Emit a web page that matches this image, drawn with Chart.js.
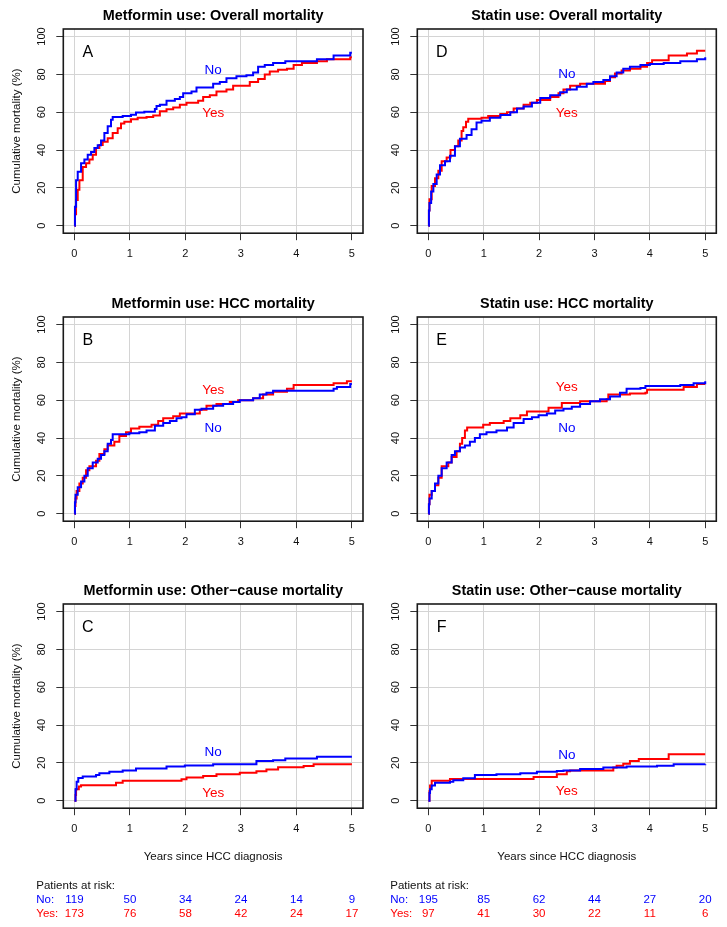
<!DOCTYPE html>
<html>
<head>
<meta charset="utf-8">
<script src="https://cdn.jsdelivr.net/npm/chart.js@4/dist/chart.umd.min.js"></script>
<style>
    body { margin: 0; background: #fff; width: 727px; height: 927px; position: relative; overflow: hidden;
           font-family: "Liberation Sans", Arial, Helvetica, sans-serif; }
    canvas { position: absolute; }
    .risk { position: absolute; font-size: 11.5px; line-height: 14px; white-space: nowrap; }
</style>
</head>
<body>
<script>
const xTicks = [0, 1, 2, 3, 4, 5];
const yTicks = [0, 20, 40, 60, 80, 100];

// [years, cumulative mortality %]
const metforminOverallNo = [[0,0],[0.01,10],[0.03,24],[0.06,28.5],[0.12,33],[0.18,35],[0.24,37.5],[0.3,39],[0.36,41],[0.42,42.5],[0.48,45],[0.54,49],[0.6,52.5],[0.66,56],[0.69,57.5],[0.87,58],[1.02,58.7],[1.11,59.8],[1.26,60.3],[1.45,61.7],[1.48,63.3],[1.54,64],[1.66,66],[1.81,67],[1.9,68],[1.96,70],[2.11,71],[2.2,73],[2.5,75],[2.62,76],[2.74,78],[2.92,79],[3.1,79.5],[3.22,81],[3.31,84],[3.43,85],[3.58,86],[3.8,87],[4.37,88],[4.67,90],[4.97,91.5],[5,91.5]];
const metforminOverallYes = [[0,0],[0.01,6],[0.03,13.5],[0.06,19],[0.09,24],[0.15,31],[0.21,33],[0.27,35],[0.33,37.5],[0.39,41],[0.45,42.7],[0.51,44.4],[0.6,46.2],[0.69,49],[0.78,51.5],[0.84,54],[0.9,55],[1.02,56.3],[1.14,57],[1.3,57.5],[1.42,58.3],[1.54,60.5],[1.66,61.5],[1.78,62.5],[1.9,64],[2.02,65],[2.23,66],[2.32,68],[2.44,69],[2.56,71],[2.74,72],[2.86,74],[3.16,76],[3.31,77.5],[3.43,80],[3.52,81.5],[3.67,82.5],[3.83,83],[3.95,85],[4.1,86],[4.37,87],[4.55,88],[4.97,89],[5,89]];
const statinOverallNo = [[0,0],[0.01,8],[0.02,12],[0.05,18],[0.09,22],[0.15,27],[0.21,32],[0.3,34],[0.39,37],[0.48,42],[0.57,46],[0.69,48],[0.78,51],[0.87,54.5],[0.96,55.5],[1.11,57],[1.3,58.5],[1.48,60],[1.6,62],[1.72,63],[1.87,65],[2.02,67.5],[2.2,69],[2.38,70.5],[2.5,72],[2.68,73.5],[2.86,75],[2.98,76],[3.16,77],[3.28,79],[3.4,81],[3.52,83],[3.64,84],[3.83,85],[4,85.5],[4.25,86],[4.55,87],[4.85,88],[5,89]];
const statinOverallYes = [[0,0],[0.01,8],[0.02,14],[0.06,21],[0.12,25],[0.18,29],[0.24,34],[0.33,36],[0.4,40],[0.48,42],[0.54,45],[0.6,50],[0.63,52],[0.68,55],[0.72,56.5],[0.96,57],[1.08,58],[1.3,59],[1.42,60],[1.54,62],[1.72,64],[1.84,65],[1.96,66.5],[2.2,68],[2.35,70],[2.44,72],[2.56,74],[2.74,75],[3.19,76.5],[3.28,78.5],[3.37,80.5],[3.49,82],[3.64,83],[3.83,84],[3.95,86],[4.04,87.5],[4.34,90],[4.67,91],[4.85,92.5],[5,92.5]];
const metforminHccNo = [[0,0],[0.01,6],[0.02,10],[0.06,14],[0.12,17],[0.18,20],[0.24,24],[0.33,27],[0.42,29],[0.48,31],[0.54,33],[0.6,37],[0.66,39],[0.69,42],[0.99,42.5],[1.17,43],[1.3,44],[1.45,46.5],[1.6,48],[1.72,49],[1.84,50.5],[1.93,51],[2.02,52.5],[2.17,55],[2.29,55.5],[2.5,57],[2.68,58],[2.86,59],[2.98,60],[3.22,61],[3.34,63],[3.46,64],[3.58,65],[4.67,66],[4.73,67],[4.97,68.5],[5,68.5]];
const metforminHccYes = [[0,0],[0.01,4],[0.02,8],[0.04,12],[0.09,16],[0.15,19],[0.21,23],[0.27,25],[0.39,28],[0.45,31.5],[0.54,34],[0.6,36],[0.72,38],[0.81,41],[0.93,43],[1.02,45],[1.17,46],[1.39,47],[1.51,49],[1.6,50.5],[1.78,51.5],[1.9,53],[2.26,55],[2.38,57],[2.56,58],[2.8,59],[2.95,60],[3.22,61],[3.4,63],[3.58,64.5],[3.83,66],[3.95,68],[4.67,69],[4.91,70],[5,70]];
const statinHccNo = [[0,0],[0.01,5],[0.02,8],[0.06,12],[0.12,16],[0.18,20],[0.24,24],[0.33,27],[0.42,31],[0.48,33],[0.57,35],[0.66,36],[0.75,38],[0.84,40],[0.93,42],[1.05,43],[1.23,44],[1.42,45.5],[1.54,48],[1.72,50],[1.87,51],[1.99,52],[2.14,53],[2.29,54.5],[2.44,55.5],[2.59,56.5],[2.74,58],[2.92,59.5],[3.1,60.5],[3.28,62],[3.46,64],[3.58,66],[3.83,66.5],[3.92,67.5],[4.55,68],[4.79,69],[5,70]];
const statinHccYes = [[0,0],[0.01,5],[0.02,10],[0.06,12],[0.12,15],[0.18,19],[0.24,25],[0.36,27],[0.42,30],[0.51,33],[0.57,37],[0.61,40],[0.66,44],[0.7,45.5],[0.99,47],[1.11,48],[1.36,49],[1.48,50.5],[1.66,52],[1.78,54],[2.17,56],[2.41,58.5],[2.74,59.5],[3.22,60.5],[3.25,63],[3.64,63.5],[3.92,64],[3.95,65.5],[4.61,67],[4.85,68.5],[5,68.5]];
const metforminOtherNo = [[0,0],[0.02,6],[0.04,10],[0.07,12],[0.15,12.8],[0.39,13.5],[0.45,14.5],[0.63,15.3],[0.87,16],[1.11,17],[1.66,18],[1.99,18.6],[2.5,19.3],[3.28,21],[3.58,21.3],[3.8,22.3],[4.37,23.2],[5,23.2]];
const metforminOtherYes = [[0,0],[0.02,3],[0.03,6],[0.08,7.5],[0.12,8.2],[0.75,9.5],[0.87,10.5],[1.93,11.3],[2.02,12.2],[2.32,13],[2.56,14],[2.98,14.7],[3.28,15.5],[3.46,16.5],[3.67,17.6],[4.13,18.3],[4.31,19.3],[5,19.3]];
const statinOtherNo = [[0,0],[0.02,4],[0.03,6],[0.06,8],[0.12,9.5],[0.39,10],[0.45,10.8],[0.63,11.8],[0.84,13.5],[1.23,14],[1.66,14.5],[1.96,15.3],[2.32,15.7],[2.44,16],[2.74,16.7],[3.16,17.5],[3.58,18],[4.13,18.5],[4.43,19.2],[5,19.3]];
const statinOtherYes = [[0,0],[0.02,5],[0.03,8],[0.06,10.5],[0.39,11.5],[1.9,12.5],[2.32,14],[2.5,15.5],[2.56,16],[3.34,17.5],[3.4,18.5],[3.52,19.5],[3.64,21],[3.8,22],[4.34,24.5],[5,24.5]];

// patients at risk at xTicks
const metforminRiskNo = [119, 50, 34, 24, 14, 9];
const metforminRiskYes = [173, 76, 58, 42, 24, 17];
const statinRiskNo = [195, 85, 62, 44, 27, 20];
const statinRiskYes = [97, 41, 30, 22, 11, 6];

const FONT = '"Liberation Sans", Arial, Helvetica, sans-serif';
const BLUE = '#0000ff';
const RED = '#ff0000';

const panels = [
    { letter: 'A', title: 'Metformin use: Overall mortality', col: 0, row: 0, no: metforminOverallNo, yes: metforminOverallYes, noAt: [2.5, 82], yesAt: [2.5, 59.5] },
    { letter: 'D', title: 'Statin use: Overall mortality', col: 1, row: 0, no: statinOverallNo, yes: statinOverallYes, noAt: [2.5, 80], yesAt: [2.5, 59.5] },
    { letter: 'B', title: 'Metformin use: HCC mortality', col: 0, row: 1, no: metforminHccNo, yes: metforminHccYes, noAt: [2.5, 45.3], yesAt: [2.5, 65.5] },
    { letter: 'E', title: 'Statin use: HCC mortality', col: 1, row: 1, no: statinHccNo, yes: statinHccYes, noAt: [2.5, 45.3], yesAt: [2.5, 67] },
    { letter: 'C', title: 'Metformin use: Other\u2212cause mortality', col: 0, row: 2, no: metforminOtherNo, yes: metforminOtherYes, noAt: [2.5, 25.6], yesAt: [2.5, 4], riskNo: metforminRiskNo, riskYes: metforminRiskYes },
    { letter: 'F', title: 'Statin use: Other\u2212cause mortality', col: 1, row: 2, no: statinOtherNo, yes: statinOtherYes, noAt: [2.5, 24], yesAt: [2.5, 5], riskNo: statinRiskNo, riskYes: statinRiskYes }
];

const colLeft = [0, 364];
const colWidth = [364, 363];
const yAxisWidth = [63.3, 53.3];
const padRight = [1, 10.7];
const rowTop = [0, 288, 575];
const rowHeight = [262, 262, 352];
const areaBottom = 233.2;

const boxPlugin = {
    id: 'box',
    afterDatasetsDraw(chart) {
        const a = chart.chartArea;
        const ctx = chart.ctx;
        const p = chart.options.plugins.box;
        ctx.save();
        ctx.strokeStyle = '#1a1a1a';
        ctx.lineWidth = 1.6;
        ctx.strokeRect(a.left, a.top, a.right - a.left, a.bottom - a.top);

        ctx.textAlign = 'center';
        ctx.textBaseline = 'middle';
        const x = chart.scales.x, y = chart.scales.y;
        ctx.fillStyle = '#000';
        ctx.font = '16px ' + FONT;
        ctx.fillText(p.letter, x.getPixelForValue(0.24), y.getPixelForValue(91.5));
        ctx.font = '13.5px ' + FONT;
        ctx.fillStyle = BLUE;
        ctx.fillText('No', x.getPixelForValue(p.noAt[0]), y.getPixelForValue(p.noAt[1]));
        ctx.fillStyle = RED;
        ctx.fillText('Yes', x.getPixelForValue(p.yesAt[0]), y.getPixelForValue(p.yesAt[1]));
        ctx.restore();
    }
};

function toPoints(list) {
    return list.map(p => ({ x: p[0], y: p[1] }));
}

function makePanel(panel) {
    const canvas = document.createElement('canvas');
    const w = colWidth[panel.col];
    const h = rowHeight[panel.row];
    canvas.width = w;
    canvas.height = h;
    canvas.style.left = colLeft[panel.col] + 'px';
    canvas.style.top = rowTop[panel.row] + 'px';
    canvas.style.width = w + 'px';
    canvas.style.height = h + 'px';
    document.body.appendChild(canvas);

    const bottomRow = panel.row === 2;
    const xAxisHeight = bottomRow ? 66.8 : h - areaBottom;
    const padBottom = bottomRow ? h - areaBottom - xAxisHeight : 0;

    return new Chart(canvas.getContext('2d'), {
        type: 'line',
        data: {
            datasets: [
                { data: toPoints(panel.no), borderColor: BLUE, borderWidth: 2, stepped: true, pointRadius: 0, fill: false },
                { data: toPoints(panel.yes), borderColor: RED, borderWidth: 2, stepped: true, pointRadius: 0, fill: false }
            ]
        },
        options: {
            responsive: false,
            animation: false,
            devicePixelRatio: 1,
            layout: { padding: { left: 0, top: 0, right: padRight[panel.col], bottom: padBottom } },
            plugins: {
                legend: { display: false },
                tooltip: { enabled: false },
                title: {
                    display: true,
                    text: panel.title,
                    fullSize: false,
                    color: '#000',
                    font: { family: FONT, size: 14.4, weight: 'bold', lineHeight: 1.2 },
                    padding: { top: 7, bottom: 4.72 }
                },
                box: panel
            },
            scales: {
                x: {
                    type: 'linear',
                    min: -0.2,
                    max: 5.2,
                    afterBuildTicks: s => { s.ticks = xTicks.map(v => ({ value: v })); },
                    afterFit: s => { s.height = xAxisHeight; },
                    grid: { color: '#d4d4d4', lineWidth: 1, tickColor: '#333', tickLength: 7 },
                    border: { display: false },
                    ticks: { color: '#111', font: { family: FONT, size: 11 }, padding: 7, maxRotation: 0, autoSkip: false, callback: v => String(v) },
                    title: {
                        display: bottomRow,
                        text: 'Years since HCC diagnosis',
                        color: '#111',
                        font: { family: FONT, size: 11.5, lineHeight: 1.2 },
                        padding: { top: 0, bottom: 11.4 }
                    }
                },
                y: {
                    type: 'linear',
                    min: -4,
                    max: 104,
                    afterBuildTicks: s => { s.ticks = yTicks.map(v => ({ value: v })); },
                    afterFit: s => { s.width = yAxisWidth[panel.col]; },
                    grid: { color: '#d4d4d4', lineWidth: 1, tickColor: '#333', tickLength: 7 },
                    border: { display: false },
                    ticks: { color: '#111', font: { family: FONT, size: 11 }, padding: 4.9, minRotation: 90, maxRotation: 90, crossAlign: 'center', autoSkip: false, callback: v => String(v) },
                    title: {
                        display: panel.col === 0,
                        text: 'Cumulative mortality (%)',
                        color: '#111',
                        font: { family: FONT, size: 11.5, lineHeight: 1.2 },
                        padding: { top: 9.8, bottom: 0 }
                    }
                }
            }
        },
        plugins: [boxPlugin]
    });
}

function addText(text, left, top, color, align) {
    const div = document.createElement('div');
    div.className = 'risk';
    div.textContent = text;
    div.style.color = color;
    div.style.top = top + 'px';
    if (align === 'center') {
        div.style.left = (left - 30) + 'px';
        div.style.width = '60px';
        div.style.textAlign = 'center';
    } else {
        div.style.left = left + 'px';
    }
    document.body.appendChild(div);
}

function addRiskTable(chart, panel) {
    const offset = colLeft[panel.col];
    const xs = chart.scales.x;
    const textLeft = offset + chart.chartArea.left - 27;
    addText('Patients at risk:', textLeft, 878, '#111');
    addText('No:', textLeft, 892, BLUE);
    addText('Yes:', textLeft, 905.7, RED);
    xTicks.forEach((t, i) => {
        const px = offset + xs.getPixelForValue(t);
        addText(String(panel.riskNo[i]), px, 892, BLUE, 'center');
        addText(String(panel.riskYes[i]), px, 905.7, RED, 'center');
    });
}

panels.forEach(panel => {
    const chart = makePanel(panel);
    if (panel.riskNo) addRiskTable(chart, panel);
});
</script>
</body>
</html>
